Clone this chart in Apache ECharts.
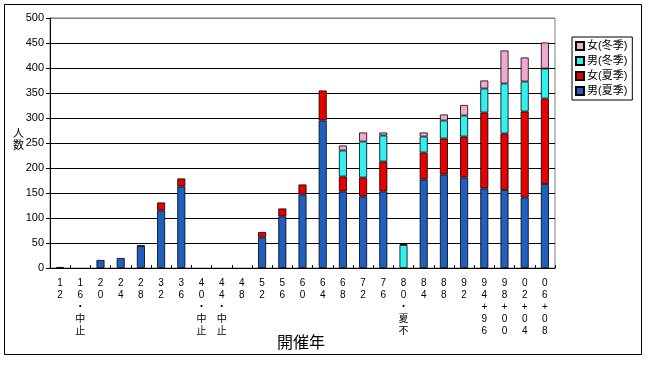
<!DOCTYPE html>
<html><head><meta charset="utf-8">
<script src="https://cdn.jsdelivr.net/npm/echarts@6/dist/echarts.min.js"></script>
<style>html,body{margin:0;padding:0;background:#fff}#c{width:658px;height:371px}</style>
</head><body><div id="c"></div>
<script>
const categories = ["12","16・中止","20","24","28","32","36","40・中止","44・中止","48","52","56","60","64","68","72","76","80・夏不","84","88","92","94+96","98+00","02+04","06+08"];
const maleSummer   = [2,0,16,20,44,115,163,0,0,0,61,103,147,295,153,143,153,0,177,187,181,159,156,141,168];
const femaleSummer = [0,0,0,0,1,16,16,0,0,0,11,16,20,60,30,38,60,0,54,72,82,152,113,172,171];
const maleWinter   = [0,0,0,0,0,0,0,0,0,0,0,0,0,0,52,72,52,46,32,36,42,48,100,60,60];
const femaleWinter = [0,0,0,0,0,0,0,0,0,0,0,0,0,0,10,18,6,2,8,12,21,16,66,48,52];
const seriesNames = ["男(夏季)","女(夏季)","男(冬季)","女(冬季)"];
const yTicks = {min:0, max:500, interval:50};

const FONT = "'Liberation Sans','Noto Sans CJK JP',sans-serif";
const colors = ['#1F5FC0','#E60000','#33F0F0','#F0A8D0'];
const datas = [maleSummer, femaleSummer, maleWinter, femaleWinter];
const chart = echarts.init(document.getElementById('c'), null, {renderer:'canvas'});
const gridColors = [];
for (let i=0;i<=10;i++) gridColors.push(i===10 ? '#808080' : '#000');
chart.setOption({
  animation:false,
  backgroundColor:'#fff',
  textStyle:{fontFamily:FONT},
  grid:{left:50, right:103, top:18, bottom:103, show:true, borderColor:'#808080', borderWidth:1},
  legend:{
    orient:'vertical', left:572, top:37,
    data:[seriesNames[3],seriesNames[2],seriesNames[1],seriesNames[0]],
    icon:'rect', itemWidth:8, itemHeight:8, itemGap:3,
    padding:[3,5,3,3], borderColor:'#000', borderWidth:1,
    textStyle:{fontSize:11, color:'#000', fontFamily:FONT, padding:[0,0,0,-2], lineHeight:12},
    selectedMode:false
  },
  xAxis:{
    type:'category', data:categories,
    axisLine:{lineStyle:{color:'#000', width:1}},
    axisTick:{show:true, inside:true, length:3, lineStyle:{color:'#000'}},
    axisLabel:{
      interval:0, color:'#000', fontSize:10, lineHeight:12, margin:9,
      verticalAlign:'top', fontFamily:FONT,
      formatter: v => Array.from(v).join('\n')
    }
  },
  yAxis:{
    type:'value', min:yTicks.min, max:yTicks.max, interval:yTicks.interval,
    axisLine:{show:true, lineStyle:{color:'#000'}},
    axisTick:{show:true, length:4, lineStyle:{color:'#000'}},
    axisLabel:{color:'#000', fontSize:11, margin:6, fontFamily:FONT},
    splitLine:{show:true, lineStyle:{color:gridColors, width:1}}
  },
  series: datas.map((d,i)=>({
    name:seriesNames[i], type:'bar', stack:'total',
    data:d.map(v => v === 0 ? '-' : v), barWidth:8,
    itemStyle:{color:colors[i], borderColor:'#000', borderWidth:0.8}
  })),
  graphic:[
    {type:'rect', shape:{x:4.5,y:4.5,width:637,height:350}, style:{fill:null, stroke:'#000', lineWidth:1}, silent:true, z:-1},
    {type:'text', left:13, top:128, style:{text:'人\n数', fontSize:11, lineHeight:12, fill:'#000', fontFamily:FONT}},
    {type:'text', left:277, top:336, style:{text:'開催年', fontSize:16, fill:'#000', fontFamily:FONT}}
  ]
});
</script></body></html>
